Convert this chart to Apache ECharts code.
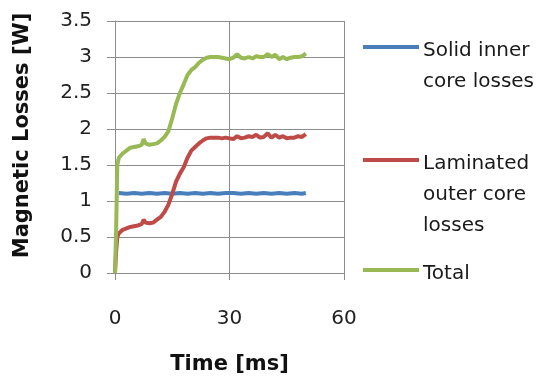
<!DOCTYPE html>
<html><head><meta charset="utf-8">
<script src="https://cdn.jsdelivr.net/npm/echarts@6/dist/echarts.min.js"></script>
<style>html,body{margin:0;padding:0;background:#fff}#c{width:542px;height:383px}</style>
</head><body><div id="c"></div>
<script>
var seriesNames = ['Solid inner\ncore losses', 'Laminated\nouter core\nlosses', 'Total'];
var xTicks = [0, 30, 60];
var yTicks = [0, 0.5, 1, 1.5, 2, 2.5, 3, 3.5];

var timeMs = [0,0.3,0.6,1,2,3,4,5,6,7,7.5,8,9,10,11,12,13,14,15,16,17,18,19,20,21,22,23,24,25,26,27,28,29,30,31,32,33,34,35,36,37,38,39,40,41,42,43,44,45,46,47,48,49,50];
var totalLoss = [0,0.6,1.5,1.6,1.66,1.7,1.74,1.75,1.76,1.78,1.86,1.8,1.78,1.79,1.8,1.84,1.89,1.97,2.15,2.35,2.5,2.62,2.75,2.82,2.86,2.92,2.96,2.99,3.0,3.0,3.0,2.99,2.98,2.97,2.99,3.04,2.99,2.98,3.0,2.98,3.01,3.0,3.0,3.04,3.0,3.03,2.97,3.0,2.97,2.99,3.0,3.0,3.01,3.05];
var laminatedLoss = [0,0.3,0.5,0.55,0.6,0.62,0.64,0.65,0.66,0.68,0.74,0.7,0.69,0.7,0.74,0.78,0.85,0.95,1.1,1.27,1.38,1.47,1.6,1.7,1.75,1.8,1.84,1.87,1.88,1.88,1.88,1.87,1.88,1.87,1.86,1.9,1.87,1.88,1.9,1.89,1.92,1.88,1.89,1.94,1.88,1.92,1.88,1.9,1.87,1.88,1.88,1.9,1.89,1.93];
var solidTime = [1,3,5,7,9,11,13,15,17,19,21,23,25,27,29,31,33,35,37,39,41,43,45,47,49,50];
var solidLoss = [1.11,1.1,1.11,1.1,1.11,1.1,1.11,1.1,1.11,1.1,1.11,1.1,1.11,1.1,1.11,1.11,1.1,1.11,1.1,1.11,1.1,1.11,1.1,1.11,1.1,1.11];

function pairs(xs, ys){ return xs.map(function(x,i){ return [x, ys[i]]; }); }
var colors = ['#4a7ebb', '#be4b48', '#98b954'];
var font = 'DejaVu Sans';

var chart = echarts.init(document.getElementById('c'));

// legend drawn as graphic elements (line + multi-line label aligned to first line)
var legendRows = [47, 160, 270];
var legendGraphics = [];
seriesNames.forEach(function(name, i){
  var y = legendRows[i];
  legendGraphics.push({ type: 'rect', shape: { x: 363, y: y - 2, width: 56, height: 4 }, style: { fill: colors[i] } });
  legendGraphics.push({ type: 'text', x: 423, y: y - 12,
    style: { text: name, font: '20px "DejaVu Sans"', fill: '#1a1a1a', lineHeight: 31, verticalAlign: 'top', align: 'left' } });
});

chart.setOption({
  animation: false,
  color: colors,
  grid: { left: 115, right: 198, top: 21, bottom: 110, containLabel: false },
  graphic: legendGraphics,
  xAxis: {
    type: 'value', min: xTicks[0], max: xTicks[xTicks.length-1], interval: 30,
    name: 'Time [ms]', nameLocation: 'middle', nameGap: 81,
    nameTextStyle: { fontFamily: font, fontSize: 21, fontWeight: 'bold', color: '#111' },
    axisLine: { show: true, lineStyle: { color: '#8c8c8c', width: 1 } },
    axisTick: { show: true, length: 7, lineStyle: { color: '#8c8c8c' } },
    axisLabel: { fontFamily: font, fontSize: 20, color: '#222', margin: 36 },
    splitLine: { show: true, lineStyle: { color: '#8c8c8c', width: 1 } }
  },
  yAxis: {
    type: 'value', min: yTicks[0], max: yTicks[yTicks.length-1], interval: 0.5,
    name: 'Magnetic Losses [W]', nameLocation: 'middle', nameGap: 82, nameRotate: 90,
    nameTextStyle: { fontFamily: font, fontSize: 21, fontWeight: 'bold', color: '#111', padding: [0, 0, 0, 23] },
    axisLine: { show: true, lineStyle: { color: '#8c8c8c', width: 1 } },
    axisTick: { show: true, length: 8, lineStyle: { color: '#8c8c8c' } },
    axisLabel: { fontFamily: font, fontSize: 20, color: '#222', margin: 23 },
    splitLine: { show: true, lineStyle: { color: '#8c8c8c', width: 1 } }
  },
  series: [
    { name: seriesNames[0], type: 'line', data: pairs(solidTime, solidLoss), showSymbol: false, lineStyle: { width: 4 } },
    { name: seriesNames[1], type: 'line', data: pairs(timeMs, laminatedLoss), showSymbol: false, lineStyle: { width: 4 } },
    { name: seriesNames[2], type: 'line', data: pairs(timeMs, totalLoss), showSymbol: false, lineStyle: { width: 4 } }
  ]
});
</script></body></html>
